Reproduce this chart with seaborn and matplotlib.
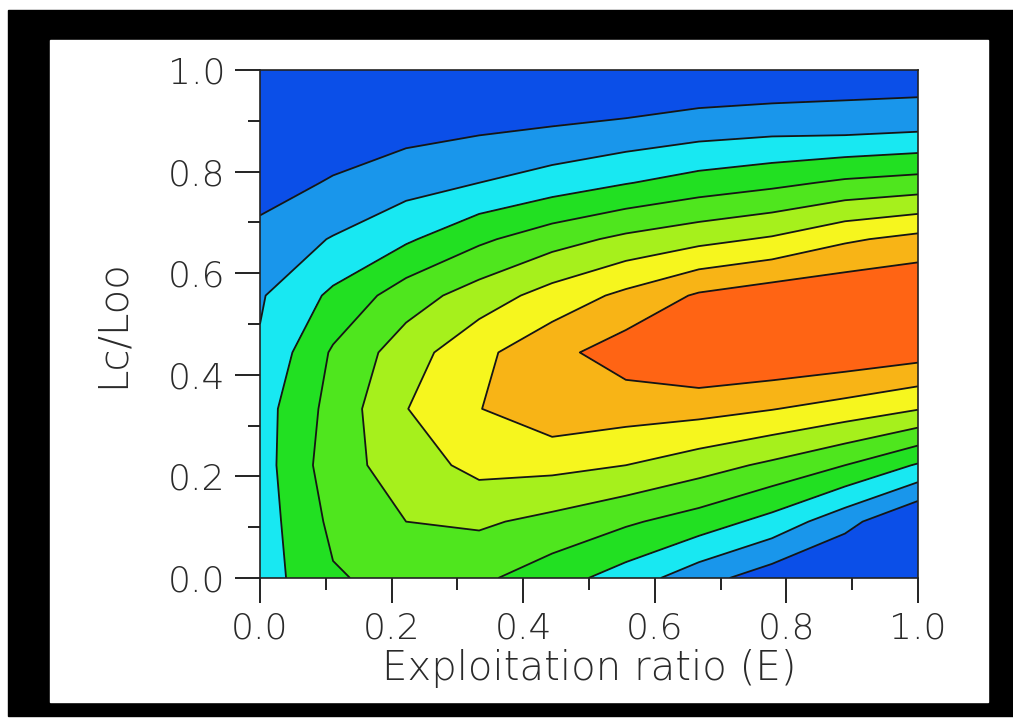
"""
Yield per recruit isopleth: Lc/Loo vs exploitation ratio (E)
"""
import numpy as np
import matplotlib
matplotlib.use("Agg")
import matplotlib.pyplot as plt
from matplotlib.patches import Rectangle
import seaborn as sns

# grid nodes (E on x, Lc/Loo on y)
e_ratio = [0.0, 0.111, 0.222, 0.333, 0.444, 0.556, 0.667, 0.778, 0.889, 1.0]
lc_ratio = [0.0, 0.111, 0.222, 0.333, 0.444, 0.556, 0.667, 0.778, 0.889, 1.0]

# relative yield (in contour-level units), one row per Lc/Loo value, bottom row first
yield_grid = [
    [2.50, 3.90, 4.33, 4.20, 3.44, 2.55, 1.40, 0.45, -0.30, -0.80],
    [2.50, 4.23, 5.00, 5.15, 4.73, 4.15, 3.54, 2.65, 1.35, -0.10],
    [2.55, 4.55, 5.51, 6.30, 6.28, 6.00, 5.44, 4.80, 4.00, 2.90],
    [2.56, 4.36, 5.97, 6.97, 7.71, 7.47, 7.36, 7.04, 6.60, 6.05],
    [2.10, 4.13, 5.53, 6.75, 7.70, 8.50, 9.09, 8.94, 8.73, 8.43],
    [1.90, 3.20, 4.52, 5.47, 6.40, 7.23, 8.13, 8.57, 8.81, 9.00],
    [1.40, 2.06, 2.85, 3.81, 4.59, 5.23, 5.70, 6.12, 6.85, 7.30],
    [0.45, 1.12, 1.60, 2.00, 2.46, 2.95, 3.41, 3.75, 4.17, 4.40],
    [-0.20, 0.20, 0.62, 0.81, 1.00, 1.22, 1.48, 1.62, 1.60, 1.75],
    [-0.80, -0.50, -0.36, -0.40, -0.35, -0.30, 0.00, 0.10, 0.30, 0.30],
]

levels = [-2, 1, 2, 3, 4, 5, 6, 7, 8, 10]
band_colors = ['#0b4fe8', '#1996eb', '#18e8f2', '#22e022', '#4fe61e',
               '#a6f01c', '#f6f61e', '#f8b416', '#ff6414']

sns.set_style("ticks")
plt.rcParams['font.family'] = ['DejaVu Sans']

W, H = 1013, 718
fig = plt.figure(figsize=(W / 100, H / 100), dpi=100)
fig.patch.set_facecolor('white')

# black frame around the white card
fig.patches.append(Rectangle((8 / W, 2 / H), (W - 8) / W, 706 / H,
                             transform=fig.transFigure, color='black', zorder=-10))
fig.patches.append(Rectangle((50 / W, 16 / H), 938 / W, 662 / H,
                             transform=fig.transFigure, color='white', zorder=-9))

ax = fig.add_axes([260 / W, 140 / H, 658 / W, 508 / H])
z = np.array(yield_grid)
ax.contourf(e_ratio, lc_ratio, z, levels=levels, colors=band_colors)
ax.contour(e_ratio, lc_ratio, z, levels=levels[1:-1], colors='#151515', linewidths=1.3)

ax.set_xlim(0, 1)
ax.set_ylim(0, 1)
ticks = [0.0, 0.2, 0.4, 0.6, 0.8, 1.0]
ax.set_xticks(ticks)
ax.set_yticks(ticks)
ax.set_xticklabels([f"{t:.1f}" for t in ticks], fontweight='light')
ax.set_yticklabels([f"{t:.1f}" for t in ticks], fontweight='light')
ax.set_xticks([0.1, 0.3, 0.5, 0.7, 0.9], minor=True)
ax.set_yticks([0.1, 0.3, 0.5, 0.7, 0.9], minor=True)
ax.tick_params(which='major', direction='out', length=18, width=1.4,
               labelsize=26, labelcolor='#2a2a2a', color='#222222')
ax.tick_params(which='minor', direction='out', length=8.5, width=1.4, color='#222222')
ax.tick_params(axis='y', pad=7)
ax.tick_params(axis='x', pad=6)
for sp in ax.spines.values():
    sp.set_linewidth(1.2)
    sp.set_color('#222222')

ax.set_xlabel('Exploitation ratio (E)', fontsize=29, color='#2a2a2a', fontweight='light')
ax.set_ylabel('Lc/Loo', fontsize=29, color='#2a2a2a', fontweight='light')
ax.xaxis.set_label_coords(0.5, -0.14)
ax.yaxis.set_label_coords(-0.195, 0.5)

fig.savefig('out.png', dpi=100)
